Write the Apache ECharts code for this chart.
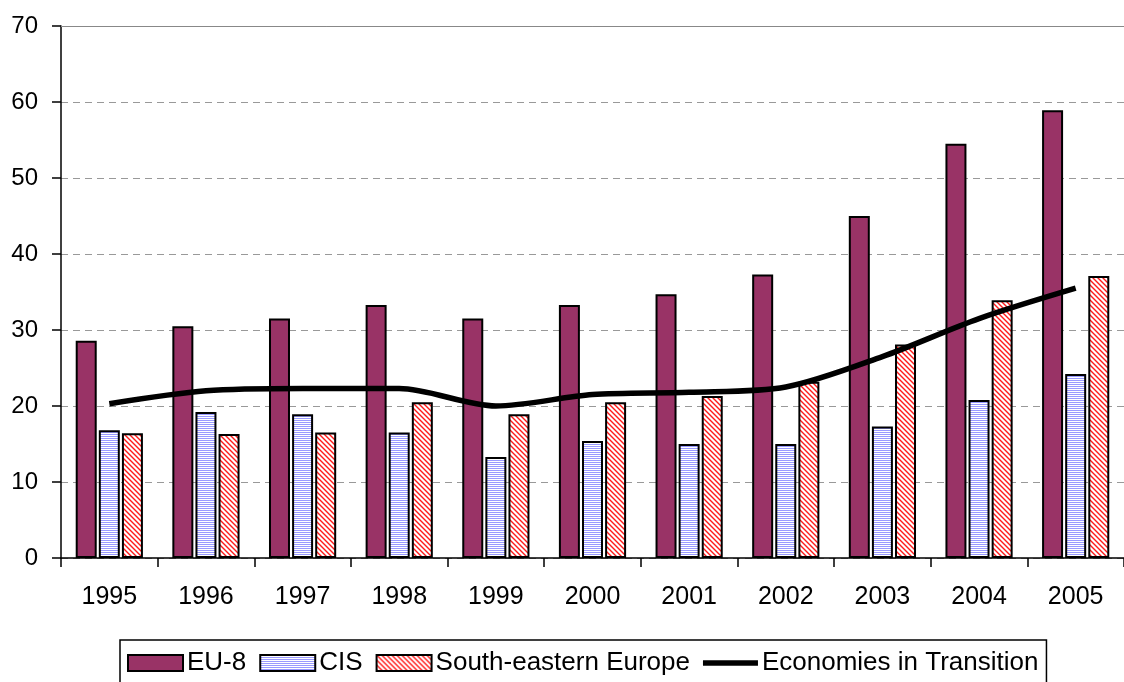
<!DOCTYPE html>
<html>
<head>
<meta charset="utf-8">
<script src="https://cdn.jsdelivr.net/npm/echarts@6/dist/echarts.min.js"></script>
<style>
  html, body { margin: 0; padding: 0; background: #fff; }
  #chart { width: 1124px; height: 682px; }
</style>
</head>
<body>
<div id="chart"></div>
<script>
// data
const years = ['1995', '1996', '1997', '1998', '1999', '2000', '2001', '2002', '2003', '2004', '2005'];
const eu8 = [28.6, 30.5, 31.5, 33.3, 31.5, 33.3, 34.7, 37.3, 45.0, 54.5, 58.9];
const cis = [16.8, 19.2, 18.9, 16.5, 13.3, 15.4, 15.0, 15.0, 17.3, 20.8, 24.2];
const seEurope = [16.4, 16.3, 16.5, 20.5, 18.9, 20.5, 21.3, 23.2, 28.1, 33.9, 37.1];
const transition = [20.3, 22.0, 22.3, 22.3, 20.0, 21.5, 21.8, 22.5, 26.5, 31.5, 35.5];

const font = '"Liberation Sans", Arial, sans-serif';

// hatch patterns like the old excel fills
function hLines() {
  const c = document.createElement('canvas');
  c.width = 4; c.height = 2;
  const ctx = c.getContext('2d');
  ctx.fillStyle = '#ffffff';
  ctx.fillRect(0, 0, 4, 2);
  ctx.fillStyle = '#9a9aff';
  ctx.fillRect(0, 0, 4, 1);
  return c;
}
function diagLines() {
  const c = document.createElement('canvas');
  c.width = 5; c.height = 5;
  const ctx = c.getContext('2d');
  ctx.fillStyle = '#ffffff';
  ctx.fillRect(0, 0, 5, 5);
  ctx.strokeStyle = '#ff1a1a';
  ctx.lineWidth = 1.4;
  ctx.beginPath();
  ctx.moveTo(-1, -1); ctx.lineTo(6, 6);
  ctx.moveTo(-4, 1); ctx.lineTo(4, 9);
  ctx.moveTo(1, -4); ctx.lineTo(9, 4);
  ctx.stroke();
  return c;
}

const myChart = echarts.init(document.getElementById('chart'), null, { renderer: 'canvas' });

const barStyle = { borderColor: '#000', borderWidth: 2 };

const option = {
  animation: false,
  backgroundColor: '#fff',
  grid: { left: 61, right: -11, top: 26, bottom: 124, containLabel: false },
  legend: {
    left: 120,
    top: 640,
    padding: [10, 8, 20, 7],
    itemGap: 13,
    itemWidth: 55,
    itemHeight: 16,
    borderColor: '#000',
    borderWidth: 1.5,
    backgroundColor: '#fff',
    textStyle: { fontFamily: font, fontSize: 26, color: '#000', padding: [0, 0, 0, -1] },
    data: [
      { name: 'EU-8', icon: 'rect' },
      { name: 'CIS', icon: 'rect' },
      { name: 'South-eastern Europe', icon: 'rect' },
      { name: 'Economies in Transition', icon: 'path://M0,0 H60 V6 H0 Z' }
    ]
  },
  xAxis: [
    {
      type: 'category',
      data: years,
      axisLine: { lineStyle: { color: '#000', width: 1.5 } },
      axisTick: { show: true, length: 9, inside: false, lineStyle: { color: '#000', width: 1.5 } },
      axisLabel: { fontFamily: font, fontSize: 25, color: '#000', margin: 27 }
    },
    {
      type: 'category',
      data: years,
      position: 'top',
      axisLine: { lineStyle: { color: '#888', width: 1 } },
      axisTick: { show: false },
      axisLabel: { show: false }
    }
  ],
  yAxis: {
    type: 'value',
    min: 0,
    max: 70,
    interval: 10,
    axisLine: { show: true, lineStyle: { color: '#000', width: 1.5 } },
    axisTick: { show: true, length: 9, lineStyle: { color: '#000', width: 1.5 } },
    axisLabel: { fontFamily: font, fontSize: 24, color: '#000', margin: 23 },
    splitLine: { show: true, lineStyle: { color: '#999', type: [7, 5], width: 1.2 } }
  },
  series: [
    {
      name: 'EU-8',
      type: 'bar',
      data: eu8,
      barWidth: 21,
      barGap: '10%',
      itemStyle: Object.assign({ color: '#993366' }, barStyle)
    },
    {
      name: 'CIS',
      type: 'bar',
      data: cis,
      barWidth: 21,
      barGap: '10%',
      itemStyle: Object.assign({ color: { image: hLines(), repeat: 'repeat' } }, barStyle)
    },
    {
      name: 'South-eastern Europe',
      type: 'bar',
      data: seEurope,
      barWidth: 21,
      barGap: '10%',
      itemStyle: Object.assign({ color: { image: diagLines(), repeat: 'repeat' } }, barStyle)
    },
    {
      name: 'Economies in Transition',
      type: 'line',
      data: transition,
      smooth: 0.3,
      showSymbol: false,
      symbol: 'none',
      z: 5,
      lineStyle: { color: '#000', width: 5.5 },
      itemStyle: { color: '#000' }
    }
  ]
};

myChart.setOption(option);
</script>
</body>
</html>
